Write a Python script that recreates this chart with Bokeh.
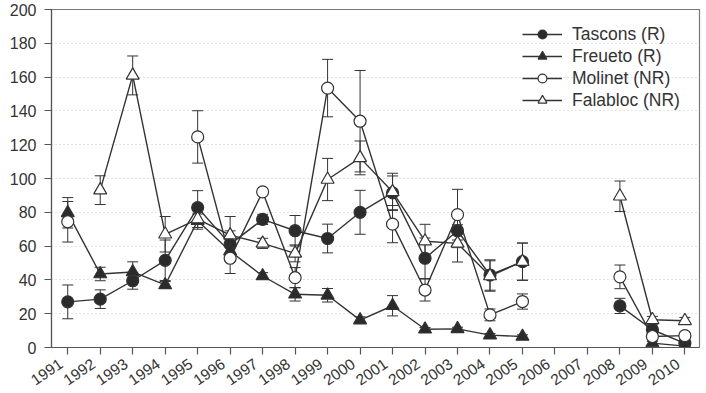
import math
from bokeh.plotting import figure
from bokeh.models import (ColumnDataSource, Whisker, TeeHead, FixedTicker, Legend, LegendItem,
                          Range1d, LinearAxis)
from bokeh.embed import file_html
from bokeh.resources import INLINE

nan = float("nan")

years = list(range(1991, 2011))

# Mean values per site (NaN = not sampled)
tascons = [27, 28.6, 39.5, 51.6, 82.8, 61, 75.8, 69.1, 64.5, 80, 91.5, 52.8, 69.1, 42.9, 50.8,
           nan, nan, 24.6, 10.5, 2.5]
freueto = [79.7, 43.5, 44.7, 37, 75, 57, 42.3, 31.5, 30.9, 16.2, 24.7, 10.8, 11, 7.3, 6.5,
           nan, nan, nan, 2.6, 0.8]
molinet = [74.4, nan, nan, nan, 124.6, 52.8, 92.1, 41.3, 153.5, 133.9, 73, 34, 78.6, 19.3, 27.2,
           nan, nan, 41.8, 6.5, 7]
falabloc = [nan, 93.1, 161, 67, 76, 66.5, 61.6, 55.7, 99.4, 112.2, 92.1, 62.9, 61.6, 42.3, 50.8,
            nan, nan, 89.5, 16.4, 15.8]

# Error bar half-lengths
tascons_err = [10, 5.5, 5, 12, 10, 8, 3, 9, 8.5, 13, 10, 12, 10, 9, 11, nan, nan, 4.5, 3, 2]
freueto_err = [9, 4, 6, 2, 4, 5, 2, 4, 4, 2, 6, 1, 1, 1, 1, nan, nan, nan, 1, 1]
molinet_err = [12, nan, nan, nan, 15.5, 9, 2, 6, 17, 30, 11, 6.5, 15, 3.5, 4.5, nan, nan, 7, 2, 2]
falabloc_err = [nan, 8.5, 11.5, 10.5, 6, 11, 3, 5, 12.5, 10, 11, 10, 11, 9, 11, nan, nan, 9, 2, 2]

series = [
    ("Tascons (R)", tascons, tascons_err, "circle", "#2b2b2b"),
    ("Freueto (R)", freueto, freueto_err, "triangle", "#2b2b2b"),
    ("Molinet (NR)", molinet, molinet_err, "circle", "white"),
    ("Falabloc (NR)", falabloc, falabloc_err, "triangle", "white"),
]

FONT = "Liberation Sans"
INK = "#333333"
X0, X1 = 1990.5, 2010.45
LABEL_SHIFT = 0.2  # slanted year labels end just left of their tick

p = figure(width=706, height=393, output_backend="svg", toolbar_location=None,
           x_range=Range1d(X0, X1), y_range=Range1d(0, 200),
           min_border_left=51, min_border_right=7, min_border_top=9, min_border_bottom=45)
p.extra_x_ranges = {"labels": Range1d(X0 + LABEL_SHIFT, X1 + LABEL_SHIFT)}

p.outline_line_color = "#777777"
p.outline_line_width = 1.2
p.background_fill_color = "white"
p.border_fill_color = "white"

p.xgrid.visible = False
p.ygrid.ticker = FixedTicker(ticks=list(range(20, 200, 20)))
p.ygrid.grid_line_color = "#c8c8c8"
p.ygrid.grid_line_dash = "1 3"

for ax in (p.xaxis[0], p.yaxis[0]):
    ax.axis_line_color = "#555555"
    ax.axis_line_width = 1.2
    ax.major_tick_line_color = "#555555"
    ax.major_tick_line_width = 1.2
    ax.major_tick_out = 7
    ax.major_tick_in = 0
    ax.minor_tick_line_color = None
    ax.major_label_text_font = FONT
    ax.major_label_text_font_size = "16px"
    ax.major_label_text_color = INK

p.yaxis.ticker = FixedTicker(ticks=list(range(0, 201, 20)))
p.yaxis.major_label_standoff = 8

# bottom axis: ticks only; the year labels come from a second, slightly offset axis
p.xaxis.ticker = FixedTicker(ticks=years)
p.xaxis.major_label_overrides = {y: "" for y in years}
p.xaxis.major_label_standoff = 0

year_axis = LinearAxis(x_range_name="labels", ticker=FixedTicker(ticks=years),
                       axis_line_color=None, major_tick_line_color=None,
                       minor_tick_line_color=None, major_tick_out=0, major_tick_in=0,
                       major_label_standoff=8, major_label_orientation=0.6,
                       major_label_text_font=FONT, major_label_text_font_size="15.5px",
                       major_label_text_color=INK)
p.add_layout(year_axis, "below")

items = []
for name, vals, errs, marker, fill in series:
    upper = [v + e if not (math.isnan(v) or math.isnan(e)) else nan for v, e in zip(vals, errs)]
    lower = [v - e if not (math.isnan(v) or math.isnan(e)) else nan for v, e in zip(vals, errs)]
    src = ColumnDataSource(dict(x=years, y=vals, upper=upper, lower=lower))
    w = Whisker(source=src, base="x", upper="upper", lower="lower",
                line_color=INK, line_width=1,
                upper_head=TeeHead(size=11, line_color=INK, line_width=1),
                lower_head=TeeHead(size=11, line_color=INK, line_width=1))
    p.add_layout(w)
    ln = p.line("x", "y", source=src, line_color=INK, line_width=1.4)
    sc = p.scatter("x", "y", source=src, marker=marker, size=12 if marker == "circle" else 13,
                   fill_color=fill, line_color=INK, line_width=1.2)
    items.append(LegendItem(label=name, renderers=[ln, sc]))

legend = Legend(items=items, location=(471, 236))
legend.glyph_width = 40
legend.glyph_height = 22
legend.label_height = 22
legend.spacing = 0
legend.padding = 0
legend.margin = 0
legend.label_standoff = 10
legend.label_text_font = FONT
legend.label_text_font_size = "17.5px"
legend.label_text_color = INK
legend.border_line_color = None
legend.background_fill_alpha = 0
p.add_layout(legend, "center")

open("out.html", "w").write(file_html(p, INLINE))
